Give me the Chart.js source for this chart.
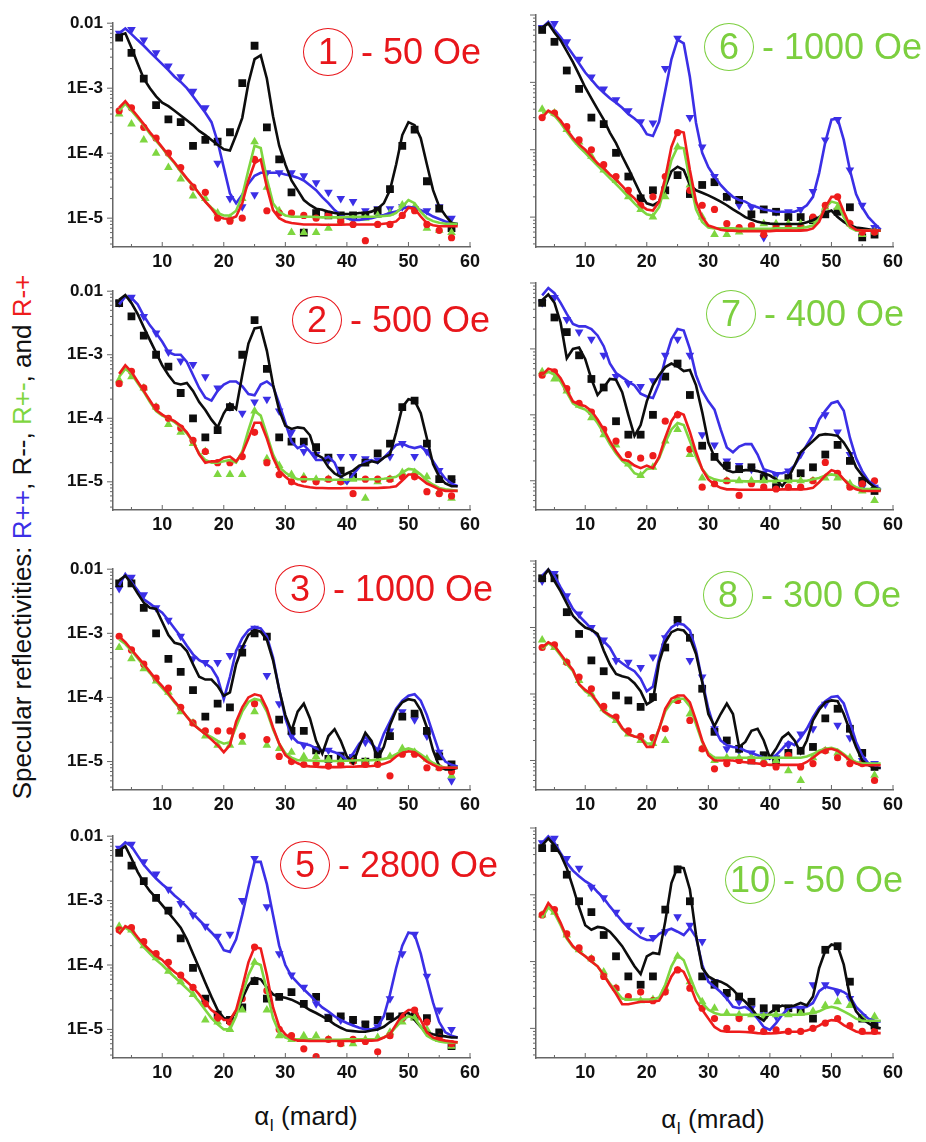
<!DOCTYPE html>
<html>
<head>
<meta charset="utf-8">
<script src="https://cdn.jsdelivr.net/npm/chart.js@4.4.1/dist/chart.umd.min.js"></script>
<style>
body { margin:0; background:#fff; width:926px; height:1142px; position:relative; overflow:hidden; font-family:"Liberation Sans", Arial, sans-serif; }
canvas { position:absolute; }
.tag { position:absolute; display:flex; align-items:center; white-space:nowrap; font-size:36px; }
.circ { display:inline-block; width:48px; height:46px; line-height:46px; border:1.3px solid currentColor; border-radius:50%; text-align:center; }
.fld { margin-left:8px; }
.ttl { position:absolute; transform:translate(-50%,-50%); white-space:nowrap; font-size:26px; color:#111; }
#ytitle { position:absolute; left:22px; top:537px; transform:translate(-50%,-50%) rotate(-90deg); white-space:nowrap; font-size:26px; color:#111; }
</style>
</head>
<body>
<div id="ytitle">Specular reflectivities: <span style="color:#3b2fe6">R++</span>, R--, <span style="color:#7ed640">R+-</span>, and <span style="color:#ee1c1c">R-+</span></div>
<div class="ttl" style="left:306px;top:1118px">&alpha;<sub style="font-size:16px">I</sub> (mard)</div>
<div class="ttl" style="left:713px;top:1121px">&alpha;<sub style="font-size:16px">I</sub> (mrad)</div>
<script>
// angle grids (mrad)
const xFit = [3,4,5,6,7,8,9,10,11,12,
  13,14,15,16,17,18,19,20,21,22,
  23,24,25,26,27,28,29,30,31,32,
  33,34,35,36,37,38,39,40,41,42,
  43,44,45,46,47,48,49,50,51,52,
  53,54,55,56,57,58];
const xPts = [3,5,7,9,11,13,15,17,19,21, 23,25,27,29,31,33,35,37,39,41, 43,45,47,49,51,53,55,57];
const xTicks = [10,20,30,40,50,60];
const yTicks = [1e-5,1e-4,1e-3,1e-2];
const yTickLabels = ['1E-5','1E-4','1E-3','0.01'];

// ---- panel 1 : 50 Oe
const p1FitPP = [7e-3,8.3e-3,6.8e-3,5.5e-3,4.5e-3,3.6e-3,2.9e-3,2.35e-3,1.9e-3,1.5e-3,
  1.25e-3,1e-3,7.5e-4,5.6e-4,4.2e-4,3e-4,1.5e-4,6e-5,2.4e-5,1.7e-5,
  2.3e-5,3.4e-5,4.5e-5,5e-5,5e-5,5e-5,5e-5,4.7e-5,4.5e-5,4.2e-5,
  3.8e-5,3.2e-5,2.7e-5,2.1e-5,1.7e-5,1.33e-5,1.12e-5,1e-5,9.4e-6,9.4e-6,
  9.7e-6,1e-5,1.06e-5,1.12e-5,1.2e-5,1.26e-5,1.4e-5,1.5e-5,1.45e-5,1.33e-5,
  1.2e-5,1.06e-5,9.7e-6,8.9e-6,8.4e-6,8.2e-6];
const p1FitMM = [6.5e-3,7e-3,4.2e-3,2.4e-3,1.4e-3,1e-3,7.5e-4,6e-4,5.3e-4,4.5e-4,
  3.8e-4,3.2e-4,2.7e-4,2.2e-4,1.9e-4,1.6e-4,1.35e-4,1.15e-4,1.1e-4,1.9e-4,
  3.5e-4,1.2e-3,2.8e-3,3.2e-3,1.4e-3,3.7e-4,1.3e-4,6.7e-5,3.8e-5,2.7e-5,
  1.9e-5,1.6e-5,1.4e-5,1.35e-5,1.26e-5,1.2e-5,1.16e-5,1.16e-5,1.16e-5,1.2e-5,
  1.2e-5,1.26e-5,1.4e-5,1.7e-5,2.7e-5,6.7e-5,1.9e-4,3e-4,2.7e-4,1.7e-4,
  6.7e-5,2.7e-5,1.5e-5,1.1e-5,8.5e-6,8e-6];
const p1FitPM = [4.5e-4,5.8e-4,4.5e-4,3.5e-4,2.7e-4,2e-4,1.55e-4,1.2e-4,9e-5,7e-5,
  5.2e-5,4e-5,3.1e-5,2.4e-5,1.8e-5,1.45e-5,1.2e-5,1.1e-5,1.1e-5,1.3e-5,
  2.2e-5,5.5e-5,1.3e-4,1.2e-4,4e-5,1.7e-5,1.25e-5,1.1e-5,1.05e-5,1.05e-5,
  1.05e-5,1.05e-5,1.04e-5,1.03e-5,1.03e-5,1.03e-5,1.03e-5,1.04e-5,1.05e-5,1.05e-5,
  1.05e-5,1.05e-5,1.06e-5,1.08e-5,1.1e-5,1.2e-5,1.5e-5,1.9e-5,1.7e-5,1.25e-5,
  1e-5,9e-6,8.5e-6,8.2e-6,8.2e-6,8.2e-6];
const p1FitMP = [5e-4,6.3e-4,4.8e-4,3.7e-4,2.8e-4,2.1e-4,1.62e-4,1.23e-4,9.3e-5,7.2e-5,
  5.4e-5,4.1e-5,3.2e-5,2.4e-5,1.8e-5,1.4e-5,1.06e-5,9.9e-6,9.7e-6,1.06e-5,
  1.7e-5,3.8e-5,7e-5,8e-5,3e-5,1.33e-5,1e-5,8.9e-6,8.4e-6,8.2e-6,
  8e-6,8e-6,8e-6,7.9e-6,7.9e-6,7.9e-6,7.9e-6,8e-6,8e-6,8e-6,
  8e-6,8e-6,8e-6,8.2e-6,8.4e-6,8.9e-6,1.1e-5,1.45e-5,1.4e-5,1.06e-5,
  8.4e-6,7.8e-6,7.5e-6,7.5e-6,7.5e-6,7.5e-6];
const p1PtsPP = [7e-3,8e-3,5.5e-3,3.5e-3,2.2e-3,1.5e-3,9e-4,5e-4,7e-5,2e-5,
  1.5e-5,2.3e-5,5e-5,5e-5,5e-5,4.5e-5,3.5e-5,2.5e-5,2e-5,1.8e-5,
  1.3e-5,1.4e-5,1.4e-5,1.5e-5,1.4e-5,1.3e-5,1.5e-5,1e-5];
const p1PtsMM = [6e-3,3.5e-3,1.4e-3,5.5e-4,3.3e-4,3e-4,1.3e-4,1.6e-4,1.5e-4,2.1e-4,
  1.2e-3,4.5e-3,2.5e-4,8e-5,2.5e-5,6e-6,1.2e-5,1.1e-5,1.1e-5,1.1e-5,
  1.1e-5,1.3e-5,2.8e-5,1.3e-4,2.3e-4,3.7e-5,1.4e-5,7e-6];
const p1PtsPM = [4e-4,2.8e-4,1.6e-4,1e-4,6e-5,4e-5,2.2e-5,2e-5,1.2e-5,1e-5,
  2e-5,1.5e-4,3e-5,1.3e-5,6e-6,6e-6,6e-6,7e-6,9e-6,1e-5,
  1e-5,1.1e-5,1.2e-5,1.6e-5,1.5e-5,7e-6,6.5e-6,6e-6];
const p1PtsMP = [4.5e-4,5e-4,2.5e-4,1.7e-4,1e-4,6e-5,3e-5,2.5e-5,1e-5,9e-6,
  1e-5,8e-5,1.3e-5,1.2e-5,1.2e-5,1.1e-5,1e-5,1.1e-5,9e-6,8e-6,
  4.5e-6,8e-6,8e-6,1.1e-5,1.3e-5,8e-6,6.5e-6,5e-6];

// ---- panel 2 : 500 Oe
const p2FitPP = [6.2e-3,8.2e-3,7.8e-3,6.2e-3,4.1e-3,2.9e-3,2.2e-3,1.6e-3,1.1e-3,1e-3,
  1e-3,7.7e-4,4.8e-4,3e-4,2.1e-4,1.9e-4,2.7e-4,3.4e-4,3.8e-4,3.8e-4,
  3.2e-4,2.4e-4,2.3e-4,3.4e-4,3.8e-4,3.2e-4,1.7e-4,8.5e-5,4.3e-5,3.4e-5,
  3.8e-5,3e-5,2.2e-5,2.2e-5,2.5e-5,2e-5,1.2e-5,9.4e-6,1.3e-5,1.7e-5,
  2.1e-5,2.2e-5,2e-5,2.4e-5,3e-5,3.8e-5,4e-5,3.6e-5,3.4e-5,3.6e-5,
  3e-5,2.1e-5,1.5e-5,1.12e-5,9.4e-6,8.5e-6];
const p2FitMM = [7.3e-3,8.7e-3,6.5e-3,4.4e-3,2.7e-3,1.7e-3,1.08e-3,6.8e-4,4.8e-4,3.6e-4,
  3.4e-4,3.6e-4,2.7e-4,1.8e-4,1.35e-4,9.5e-5,7.2e-5,1.2e-4,1.7e-4,1.4e-4,
  4.8e-4,1.5e-3,2.6e-3,2.7e-3,1.15e-3,3.4e-4,1.35e-4,7.6e-5,6.8e-5,7.2e-5,
  7e-5,5.4e-5,2.7e-5,2.4e-5,1.7e-5,1.35e-5,1.2e-5,1.35e-5,1.5e-5,1.8e-5,
  1.9e-5,2.1e-5,2e-5,2.4e-5,2.7e-5,6e-5,1.5e-4,2e-4,1.9e-4,1.2e-4,
  4.8e-5,1.9e-5,1.2e-5,9.4e-6,8.5e-6,8.5e-6];
const p2FitPM = [4.5e-4,6e-4,5e-4,3.6e-4,2.6e-4,1.8e-4,1.3e-4,1.1e-4,1e-4,8.7e-5,
  7.3e-5,5.8e-5,4.2e-5,2.8e-5,2.2e-5,2e-5,2e-5,2.1e-5,2.2e-5,2e-5,
  3e-5,6.5e-5,1.3e-4,1.1e-4,5.5e-5,2.7e-5,1.7e-5,1.4e-5,1.2e-5,1.1e-5,
  1.1e-5,1.1e-5,1.1e-5,1.1e-5,1.08e-5,1.08e-5,1.08e-5,1.08e-5,1.1e-5,1.1e-5,
  1.1e-5,1.1e-5,1.1e-5,1.12e-5,1.15e-5,1.2e-5,1.4e-5,1.6e-5,1.55e-5,1.3e-5,
  1.05e-5,9e-6,8e-6,7.6e-6,7.4e-6,7.2e-6];
const p2FitMP = [5e-4,6.8e-4,5.4e-4,3.8e-4,2.7e-4,1.9e-4,1.35e-4,1.14e-4,1e-4,9e-5,
  7.6e-5,6e-5,4.3e-5,2.7e-5,2e-5,2.1e-5,2.1e-5,2.4e-5,2.5e-5,2.1e-5,
  2.8e-5,4.8e-5,8.5e-5,8.5e-5,4.8e-5,2.4e-5,1.5e-5,1.2e-5,1e-5,9e-6,
  8.5e-6,8.2e-6,8e-6,8e-6,7.9e-6,7.9e-6,7.9e-6,8e-6,8e-6,8e-6,
  8e-6,8e-6,8e-6,8.1e-6,8.2e-6,8.5e-6,1.05e-5,1.3e-5,1.3e-5,1.12e-5,
  9.4e-6,8.5e-6,7.6e-6,7.2e-6,7.2e-6,7.2e-6];
const p2PtsPP = [6.5e-3,8e-3,4e-3,2.2e-3,1.1e-3,8e-4,7e-4,4.5e-4,3e-4,1.5e-4,
  1.2e-4,1.8e-4,2e-4,1.3e-4,6e-5,3e-5,2.7e-5,2.2e-5,2.5e-5,2.5e-5,
  2.3e-5,2.2e-5,2.5e-5,4e-5,2.5e-5,3e-5,1.5e-5,1e-5];
const p2PtsMM = [6.5e-3,4e-3,2e-3,1e-3,6.5e-4,2.5e-4,1e-4,5e-5,6.5e-5,1.5e-4,
  1e-3,3.5e-3,6e-4,5e-5,4.3e-5,4.3e-5,3.5e-5,2.4e-5,1.5e-5,1.2e-5,
  2e-5,2.8e-5,4e-5,1.5e-4,1.9e-4,4e-5,1.1e-5,1.1e-5];
const p2PtsPM = [4e-4,4.5e-4,3e-4,1.5e-4,8e-5,6e-5,4e-5,3e-5,1.3e-5,1.3e-5,
  1.3e-5,1.3e-4,2.3e-5,1.8e-5,1.3e-5,1.2e-5,1.1e-5,1.1e-5,1e-5,1.1e-5,
  5.5e-6,1e-5,1.1e-5,1.4e-5,1.4e-5,1.2e-5,7e-6,5.5e-6];
const p2PtsMP = [3.5e-4,5.5e-4,3e-4,1.5e-4,1e-4,7e-5,4.5e-5,3e-5,2e-5,2e-5,
  2.5e-5,6e-5,2e-5,1.3e-5,1e-5,1.1e-5,1e-5,1.1e-5,1e-5,6.5e-6,
  1.1e-5,1.1e-5,1.1e-5,1.2e-5,1.2e-5,7e-6,6.5e-6,6e-6];

// ---- panel 3 : 1000 Oe
const p3FitPP = [5.6e-3,8.4e-3,6.3e-3,4.7e-3,3.4e-3,2.9e-3,2.45e-3,2.1e-3,1.6e-3,1.19e-3,
  8.9e-4,6.4e-4,4.7e-4,3.8e-4,3.4e-4,2.9e-4,2e-4,9.4e-5,2.1e-4,5.3e-4,
  8.4e-4,1.12e-3,1.26e-3,1.19e-3,8.9e-4,4.2e-4,1.33e-4,4.7e-5,2.5e-5,2e-5,
  1.9e-5,1.8e-5,1.6e-5,1.5e-5,1.5e-5,1.4e-5,1.26e-5,1.06e-5,1.33e-5,1.9e-5,
  2.4e-5,1.9e-5,1.5e-5,2.7e-5,4.2e-5,6.7e-5,8.9e-5,1.06e-4,1.12e-4,8.9e-5,
  5.3e-5,2.7e-5,1.4e-5,1e-5,8.9e-6,8.4e-6];
const p3FitMM = [6.7e-3,7.9e-3,6e-3,4.2e-3,3e-3,2.5e-3,2.4e-3,1.5e-3,9.4e-4,7.1e-4,
  6.7e-4,5.3e-4,3.3e-4,2.1e-4,1.9e-4,1.9e-4,1.5e-4,1.06e-4,1.2e-4,3.3e-4,
  6e-4,9.4e-4,1.12e-3,1.06e-3,7.9e-4,3.8e-4,1.33e-4,5.3e-5,3e-5,6e-5,
  8e-5,4.7e-5,2.1e-5,1.33e-5,2.5e-5,3.2e-5,2.1e-5,1.2e-5,9.4e-6,1.7e-5,
  2.8e-5,2.1e-5,1.1e-5,1.7e-5,3.7e-5,6.3e-5,8.4e-5,9.4e-5,9e-5,6.3e-5,
  3.4e-5,1.5e-5,8.4e-6,7.5e-6,7.5e-6,8e-6];
const p3FitPM = [8e-4,6.8e-4,5.3e-4,4.1e-4,3.1e-4,2.4e-4,1.8e-4,1.4e-4,1.1e-4,8.4e-5,
  6.5e-5,5e-5,3.9e-5,3.2e-5,2.7e-5,2.4e-5,2.1e-5,1.9e-5,2e-5,3.5e-5,
  6e-5,8.5e-5,9.5e-5,9e-5,6e-5,3.2e-5,1.9e-5,1.35e-5,1.15e-5,1.05e-5,
  1.05e-5,1.04e-5,1.03e-5,1.02e-5,1.02e-5,1.02e-5,1.02e-5,1.03e-5,1.04e-5,1.05e-5,
  1.05e-5,1.05e-5,1.07e-5,1.1e-5,1.15e-5,1.3e-5,1.5e-5,1.6e-5,1.5e-5,1.3e-5,
  1.1e-5,9.5e-6,8.5e-6,8e-6,8e-6,8e-6];
const p3FitMP = [8.9e-4,7.3e-4,5.6e-4,4.3e-4,3.3e-4,2.5e-4,1.9e-4,1.5e-4,1.15e-4,8.7e-5,
  6.7e-5,5e-5,3.8e-5,3.2e-5,2.7e-5,2.2e-5,1.8e-5,1.4e-5,1.8e-5,4.2e-5,
  7e-5,1e-4,1.12e-4,1.06e-4,6.7e-5,3.4e-5,1.9e-5,1.26e-5,1.06e-5,9.4e-6,
  8.6e-6,8.4e-6,8.3e-6,8.2e-6,8.2e-6,8.2e-6,8.2e-6,8.3e-6,8.3e-6,8.4e-6,
  8.4e-6,8.5e-6,8.7e-6,9.2e-6,1e-5,1.2e-5,1.36e-5,1.45e-5,1.4e-5,1.2e-5,
  1e-5,8.9e-6,8e-6,8e-6,8e-6,8e-6];
const p3PtsPP = [5e-3,7.5e-3,4e-3,2.5e-3,1.6e-3,9e-4,4e-4,3.5e-4,3.5e-4,4.5e-4,
  6e-4,1.2e-3,2.2e-4,8e-5,2.5e-5,1.8e-5,1.5e-5,1.5e-5,1.3e-5,1.2e-5,
  2e-5,1.5e-5,3e-5,6e-5,4.5e-5,2.5e-5,1.4e-5,5e-6];
const p3PtsMM = [6e-3,6e-3,2.5e-3,1e-3,4e-4,2.5e-4,1.3e-4,5e-5,8e-5,7e-5,
  5e-4,1e-3,8.9e-4,4.5e-5,3e-5,3e-5,1.5e-5,1.1e-5,1.2e-5,1.1e-5,
  1e-5,1.3e-5,2.5e-5,5e-5,5.6e-5,3e-5,1.2e-5,9e-6];
const p3PtsPM = [6e-4,4e-4,2.8e-4,1.8e-4,1.2e-4,6e-5,4e-5,2.5e-5,1.8e-5,1.8e-5,
  2e-5,6e-5,1.8e-5,1.6e-5,1.4e-5,1.2e-5,1.2e-5,1.1e-5,1e-5,1e-5,
  1e-5,1e-5,1.2e-5,1.6e-5,1.4e-5,1.1e-5,8e-6,6e-6];
const p3PtsMP = [9e-4,5.5e-4,3.3e-4,2e-4,1.4e-4,7e-5,4e-5,3e-5,3e-5,3e-5,
  2.5e-5,8e-5,2.2e-5,1.2e-5,1e-5,9e-6,9.5e-6,8.5e-6,9e-6,1e-5,
  9e-6,9e-6,6e-6,1.3e-5,1.3e-5,8e-6,8e-6,7e-6];

// ---- panel 5 : 2800 Oe
const p5FitPP = [6.5e-3,8e-3,7e-3,5e-3,3.6e-3,2.8e-3,2.2e-3,1.8e-3,1.5e-3,1.2e-3,
  1e-3,8e-4,6.3e-4,5e-4,4e-4,3.2e-4,2.5e-4,1.7e-4,1.6e-4,2.5e-4,
  6e-4,1.6e-3,4e-3,4e-3,1.8e-3,6e-4,2e-4,1e-4,6.7e-5,5.3e-5,
  4.2e-5,3.4e-5,2.7e-5,2.2e-5,1.9e-5,1.6e-5,1.4e-5,1.26e-5,1.15e-5,1.06e-5,
  1e-5,1e-5,1.1e-5,1.6e-5,3.5e-5,9e-5,2e-4,3.2e-4,3e-4,1.5e-4,
  6e-5,2.6e-5,1.3e-5,9e-6,8e-6,7.5e-6];
const p5FitMM = [6e-3,7e-3,4.5e-3,2.8e-3,1.9e-3,1.4e-3,1.1e-3,8.5e-4,6.5e-4,5e-4,
  3.8e-4,2.5e-4,1.5e-4,9e-5,5.3e-5,3.2e-5,2e-5,1.5e-5,1.4e-5,1.9e-5,
  3e-5,4.8e-5,6.3e-5,6e-5,4.5e-5,3.5e-5,3.2e-5,3.1e-5,2.9e-5,2.6e-5,
  2.3e-5,2e-5,1.8e-5,1.6e-5,1.4e-5,1.2e-5,1.06e-5,9.6e-6,9.4e-6,9.2e-6,
  9.2e-6,9.6e-6,1e-5,1.1e-5,1.3e-5,1.5e-5,1.75e-5,1.8e-5,1.4e-5,1.1e-5,
  9e-6,8.4e-6,8e-6,7.8e-6,7.5e-6,7.5e-6];
const p5FitPM = [3.3e-4,3.8e-4,3.3e-4,2.5e-4,1.9e-4,1.5e-4,1.2e-4,1e-4,8e-5,6.5e-5,
  5.3e-5,4.3e-5,3.5e-5,2.7e-5,2e-5,1.5e-5,1.2e-5,1e-5,1e-5,1.6e-5,
  3.5e-5,7e-5,1.1e-4,1e-4,4e-5,1.5e-5,9e-6,7.5e-6,7e-6,7e-6,
  7e-6,7e-6,6.9e-6,6.9e-6,6.9e-6,6.9e-6,6.9e-6,7e-6,7e-6,7e-6,
  7e-6,7e-6,7.1e-6,7.5e-6,8.5e-6,1.1e-5,1.4e-5,1.6e-5,1.5e-5,1.1e-5,
  8e-6,7e-6,6.5e-6,6.3e-6,6.3e-6,6.3e-6];
const p5FitMP = [3e-4,4e-4,3.6e-4,2.7e-4,2.1e-4,1.7e-4,1.4e-4,1.2e-4,9.5e-5,7.8e-5,
  6.7e-5,5.5e-5,4.5e-5,3.5e-5,2.6e-5,2e-5,1.7e-5,1.4e-5,1.4e-5,2e-5,
  4.5e-5,1.1e-4,1.9e-4,1.8e-4,7e-5,2.2e-5,1.1e-5,8.4e-6,7.2e-6,6.7e-6,
  6.7e-6,6.6e-6,6.6e-6,6.6e-6,6.6e-6,6.6e-6,6.6e-6,6.6e-6,6.6e-6,6.7e-6,
  6.7e-6,6.7e-6,6.8e-6,7.5e-6,8.4e-6,1.2e-5,1.7e-5,2e-5,2e-5,1.4e-5,
  9e-6,7.5e-6,7e-6,6.7e-6,6.5e-6,6.3e-6];
const p5PtsPP = [6.5e-3,7.5e-3,4e-3,2.6e-3,1.5e-3,9e-4,6e-4,4e-4,2.8e-4,3e-4,
  1e-3,4.5e-3,8e-4,1.5e-4,7e-5,4.5e-5,2.5e-5,1.6e-5,1.4e-5,1.3e-5,
  1.2e-5,1.1e-5,3e-5,1.5e-4,3e-4,6.7e-5,2e-5,1e-5];
const p5PtsMM = [5.5e-3,3.5e-3,2e-3,1.1e-3,7e-4,2.6e-4,9e-5,3e-5,1.7e-5,1.4e-5,
  2.2e-5,5.6e-5,3e-5,3.2e-5,3.8e-5,2.5e-5,3.2e-5,1.5e-5,1.6e-5,1.4e-5,
  1.2e-5,1.4e-5,1.6e-5,1.6e-5,1.6e-5,1.5e-5,9e-6,5.5e-6];
const p5PtsPM = [4e-4,3.5e-4,2e-4,1.3e-4,8e-5,5.5e-5,3.5e-5,1.4e-5,1.3e-5,1e-5,
  2e-5,1.1e-4,2e-5,8e-6,7e-6,8e-6,8e-6,7e-6,6e-6,6e-6,
  7e-6,7.5e-6,9e-6,1.3e-5,1.5e-5,1e-5,7e-6,5.5e-6];
const p5PtsMP = [3.5e-4,3.8e-4,2.3e-4,1.5e-4,1.1e-4,7e-5,4.5e-5,2.5e-5,1.5e-5,1.3e-5,
  3e-5,1.9e-4,4e-5,1e-5,8e-6,5e-6,3.8e-6,7e-6,6e-6,7e-6,
  6.5e-6,4.5e-6,8e-6,1.5e-5,2e-5,1.3e-5,7.5e-6,6e-6];

// ---- panel 6 : 1000 Oe
const p6FitPP = [6.5e-3,7.9e-3,6e-3,4.7e-3,3.5e-3,2.6e-3,1.9e-3,1.4e-3,1.1e-3,8.6e-4,
  7e-4,5.8e-4,5e-4,4.2e-4,3.4e-4,2.9e-4,2.4e-4,1.7e-4,1.6e-4,2.6e-4,
  7.5e-4,2.2e-3,4.3e-3,3.8e-3,1.2e-3,2.5e-4,9e-5,5.5e-5,4e-5,3e-5,
  2.4e-5,2e-5,1.8e-5,1.7e-5,1.5e-5,1.4e-5,1.3e-5,1.25e-5,1.2e-5,1.2e-5,
  1.2e-5,1.2e-5,1.3e-5,1.5e-5,2e-5,4.5e-5,1.3e-4,2.8e-4,2.9e-4,1.4e-4,
  5e-5,2.2e-5,1.4e-5,1e-5,8e-6,6.5e-6];
const p6FitMM = [6.5e-3,7.5e-3,5.5e-3,4.2e-3,2.9e-3,2e-3,1.3e-3,8.4e-4,5.8e-4,4e-4,
  2.8e-4,1.8e-4,1.25e-4,8e-5,5.3e-5,3.4e-5,2.2e-5,1.6e-5,1.5e-5,1.7e-5,
  2.8e-5,4.8e-5,5.6e-5,5e-5,3e-5,2.5e-5,2.3e-5,2.1e-5,1.9e-5,1.7e-5,
  1.5e-5,1.3e-5,1.15e-5,1e-5,9.2e-6,8.5e-6,8.2e-6,8e-6,7.9e-6,7.9e-6,
  7.9e-6,7.9e-6,7.9e-6,8.4e-6,9e-6,1e-5,1.15e-5,1.25e-5,1e-5,8.5e-6,
  7.5e-6,7e-6,6.8e-6,6.6e-6,6.4e-6,6.3e-6];
const p6FitPM = [3.5e-4,3.7e-4,3.2e-4,2.5e-4,1.85e-4,1.4e-4,1.1e-4,9e-5,7.2e-5,5.8e-5,
  4.7e-5,3.8e-5,3.1e-5,2.5e-5,2e-5,1.6e-5,1.3e-5,1.1e-5,1.05e-5,1.4e-5,
  3e-5,7e-5,1.1e-4,1.05e-4,3.5e-5,1.3e-5,8.5e-6,7e-6,6.8e-6,6.8e-6,
  6.8e-6,6.8e-6,6.7e-6,6.7e-6,6.7e-6,6.7e-6,6.7e-6,6.7e-6,6.8e-6,6.8e-6,
  6.8e-6,6.8e-6,6.9e-6,7.1e-6,7.5e-6,9.5e-6,1.4e-5,1.7e-5,1.6e-5,1e-5,
  7e-6,6.3e-6,6.3e-6,6.3e-6,6.3e-6,6.3e-6];
const p6FitMP = [3e-4,3.8e-4,3.4e-4,2.7e-4,2e-4,1.5e-4,1.2e-4,1e-4,8e-5,6.3e-5,
  5.3e-5,4.3e-5,3.6e-5,2.9e-5,2.3e-5,1.9e-5,1.5e-5,1.3e-5,1.25e-5,1.7e-5,
  3.8e-5,1.1e-4,1.9e-4,1.8e-4,5e-5,1.7e-5,1e-5,7.5e-6,7e-6,6.5e-6,
  6.3e-6,6.3e-6,6.2e-6,6.2e-6,6.2e-6,6.2e-6,6.2e-6,6.2e-6,6.3e-6,6.3e-6,
  6.3e-6,6.3e-6,6.3e-6,6.4e-6,6.8e-6,8.5e-6,1.4e-5,2e-5,2e-5,1.2e-5,
  7.5e-6,6.5e-6,6.3e-6,6.3e-6,6.3e-6,6.3e-6];
const p6PtsPP = [6.5e-3,7.5e-3,4e-3,2.2e-3,1.2e-3,8e-4,5.5e-4,3.8e-4,2.6e-4,2.5e-4,
  1.6e-3,4.5e-3,3e-4,1.1e-4,4e-5,2e-5,1.5e-5,1.4e-5,5e-6,1.2e-5,
  1.2e-5,1.3e-5,2.4e-5,1.4e-4,2.8e-4,5e-5,1.5e-5,7e-6];
const p6PtsMM = [6e-3,4e-3,1.5e-3,8e-4,3e-4,2.4e-4,9e-5,4e-5,1.9e-5,2.5e-5,
  2.5e-5,4.2e-5,2.2e-5,3e-5,3.3e-5,2e-5,1.8e-5,1.1e-5,1.3e-5,1.2e-5,
  1e-5,1e-5,9e-6,1.1e-5,1.2e-5,1.4e-5,5e-6,5.5e-6];
const p6PtsPM = [4e-4,3.5e-4,2e-4,1.3e-4,8e-5,5e-5,3.5e-5,2e-5,1.3e-5,1e-5,
  2e-5,1.1e-4,3e-5,1e-5,5.5e-6,5.5e-6,6e-6,7e-6,8e-6,8e-6,
  8e-6,8e-6,9e-6,1.4e-5,1.4e-5,8e-6,5.5e-6,6e-6];
const p6PtsMP = [3e-4,3.5e-4,2.2e-4,1.4e-4,1e-4,6e-5,4e-5,2.5e-5,1.5e-5,2e-5,
  4e-5,1.8e-4,2.5e-5,1.5e-5,1.3e-5,8e-6,7e-6,7.5e-6,5.5e-6,7e-6,
  7e-6,7e-6,1e-5,1.5e-5,2e-5,8e-6,6e-6,6e-6];

// ---- panel 7 : 400 Oe
const p7FitPP = [6.5e-3,8.4e-3,7e-3,5e-3,3.4e-3,2.4e-3,2.2e-3,2.2e-3,2e-3,1.6e-3,
  1.1e-3,6e-4,4.3e-4,3.7e-4,3.2e-4,2.8e-4,2.1e-4,1.9e-4,1.8e-4,3e-4,
  7e-4,1.4e-3,2e-3,1.9e-3,1e-3,4e-4,2.3e-4,1.6e-4,1.2e-4,6e-5,
  3.2e-5,2.7e-5,3.3e-5,3.6e-5,3.6e-5,2.5e-5,1.5e-5,1.4e-5,1.3e-5,1.3e-5,
  1.4e-5,1.7e-5,2.4e-5,3.5e-5,5e-5,8.5e-5,1.15e-4,1.5e-4,1.6e-4,1.15e-4,
  4.5e-5,2.2e-5,1.4e-5,1e-5,8.5e-6,7.4e-6];
const p7FitMM = [5.5e-3,6.7e-3,5e-3,2.5e-3,7.2e-4,1e-3,1.05e-3,7e-4,3.5e-4,2e-4,
  2.6e-4,3.5e-4,3.4e-4,2.2e-4,1e-4,4.8e-5,7e-5,1.6e-4,2.8e-4,4e-4,
  5.3e-4,6e-4,5.4e-4,4.6e-4,4.8e-4,2.8e-4,1.1e-4,3.8e-5,2.3e-5,1.8e-5,
  1.45e-5,1.35e-5,1.4e-5,1.45e-5,1.45e-5,1.4e-5,1.3e-5,1.2e-5,1.05e-5,8.3e-6,
  1.1e-5,1.7e-5,2.7e-5,3.3e-5,4e-5,4.9e-5,5.1e-5,5e-5,4.8e-5,3.8e-5,
  2.7e-5,1.6e-5,1.2e-5,9.5e-6,8e-6,7.1e-6];
const p7FitPM = [4e-4,4.5e-4,4.1e-4,3.2e-4,2.2e-4,1.5e-4,1.3e-4,1.2e-4,1e-4,7.5e-5,
  5.3e-5,3.6e-5,2.6e-5,2e-5,1.7e-5,1.3e-5,1.2e-5,1.5e-5,1.6e-5,2.2e-5,
  3.8e-5,6e-5,7.5e-5,7e-5,4e-5,2.3e-5,1.5e-5,1.15e-5,1.05e-5,1e-5,
  1e-5,1e-5,9.9e-6,9.8e-6,9.8e-6,9.8e-6,9.8e-6,9.9e-6,1e-5,1e-5,
  1e-5,1e-5,1e-5,1e-5,1.05e-5,1.1e-5,1.2e-5,1.25e-5,1.2e-5,1.05e-5,
  9e-6,8e-6,7.5e-6,7.5e-6,7.5e-6,7.5e-6];
const p7FitMP = [4e-4,5e-4,4.7e-4,3.6e-4,2.4e-4,1.6e-4,1.45e-4,1.35e-4,1.15e-4,8.5e-5,
  6e-5,4e-5,2.8e-5,2.1e-5,2e-5,1.7e-5,1.55e-5,1.7e-5,1.55e-5,2.3e-5,
  4.5e-5,8e-5,1.1e-4,1e-4,5.5e-5,2.7e-5,1.5e-5,1.05e-5,8.7e-6,7.8e-6,
  7.4e-6,7.4e-6,7.3e-6,7.3e-6,7.3e-6,7.3e-6,7.3e-6,7.3e-6,7.3e-6,7.4e-6,
  7.4e-6,7.4e-6,7.4e-6,7.5e-6,7.8e-6,9.5e-6,1.2e-5,1.45e-5,1.35e-5,1.05e-5,
  8.3e-6,7.4e-6,7e-6,7e-6,7e-6,7e-6];
const p7PtsPP = [5e-3,6e-3,2.8e-3,1.8e-3,1.4e-3,8e-4,3.8e-4,3e-4,2.7e-4,3.3e-4,
  8e-4,1.4e-3,8e-4,5e-5,3.5e-5,2e-5,1.7e-5,1.5e-5,1.3e-5,1.2e-5,
  1.4e-5,2.5e-5,6e-5,1e-4,5.5e-5,2.5e-5,8e-6,8e-6];
const p7PtsMM = [5e-3,3e-3,1.8e-3,8e-4,3.5e-4,2.6e-4,8e-5,5e-5,5e-5,1e-4,
  3.8e-4,6e-4,2e-4,3.4e-5,2.3e-5,1.7e-5,1.5e-5,1.6e-5,1.1e-5,8e-6,
  1.1e-5,1.3e-5,1.6e-5,2.5e-5,3.5e-5,2e-5,1e-5,7e-6];
const p7PtsPM = [4.5e-4,3.5e-4,2.3e-4,1.4e-4,9e-5,5e-5,3.5e-5,1.8e-5,1.2e-5,1.6e-5,
  4e-5,6e-5,2.5e-5,1.1e-5,9e-6,1e-5,1e-5,1e-5,1e-5,1e-5,
  1e-5,1e-5,1e-5,1.1e-5,1.1e-5,9e-6,7e-6,5e-6];
const p7PtsMP = [4e-4,4.5e-4,2.5e-4,1.5e-4,1.1e-4,6e-5,4e-5,2.5e-5,2.2e-5,2.4e-5,
  8e-5,1e-4,3e-5,8e-6,9e-6,1e-5,6e-6,9e-6,8e-6,7.5e-6,
  8e-6,8e-6,1e-5,1.9e-5,1.3e-5,8e-6,9e-6,1e-5];

// ---- panel 8 : 300 Oe
const p8FitPP = [6e-3,7.4e-3,6e-3,4e-3,2.8e-3,1.9e-3,1.5e-3,1.2e-3,9.5e-4,7.5e-4,
  6.2e-4,5e-4,3.4e-4,2.9e-4,2.5e-4,2.2e-4,1.7e-4,1.1e-4,1.3e-4,3.5e-4,
  7.5e-4,1e-3,1.15e-3,1.1e-3,9e-4,4.5e-4,1.6e-4,6e-5,3e-5,2e-5,
  1.7e-5,1.6e-5,1.55e-5,1.4e-5,1.3e-5,1.2e-5,1.1e-5,1.07e-5,1.2e-5,1.5e-5,
  1.9e-5,1.7e-5,2.2e-5,3e-5,4.5e-5,6.3e-5,7.8e-5,9e-5,9.3e-5,7.2e-5,
  3.8e-5,1.9e-5,1.2e-5,9.1e-6,8e-6,7.7e-6];
const p8FitMM = [5.5e-3,7.4e-3,5e-3,3.5e-3,2.3e-3,1.5e-3,1.2e-3,1e-3,9.2e-4,8e-4,
  4.5e-4,2.8e-4,2e-4,1.85e-4,1.75e-4,1.45e-4,1.1e-4,7e-5,8e-5,3e-4,
  6e-4,8.5e-4,9.4e-4,9e-4,7e-4,4e-4,1.5e-4,5e-5,3.3e-5,5e-5,
  7.2e-5,5e-5,1.6e-5,1.9e-5,2.8e-5,3e-5,2e-5,1.1e-5,1.5e-5,2.2e-5,
  2.6e-5,2e-5,1.3e-5,2e-5,4e-5,5.8e-5,7.5e-5,8e-5,7.8e-5,5e-5,
  2.8e-5,1.6e-5,1e-5,8.5e-6,7.7e-6,7.7e-6];
const p8FitPM = [4.8e-4,5.8e-4,5e-4,3.8e-4,2.8e-4,2.2e-4,1.4e-4,1.1e-4,9.5e-5,7.2e-5,
  5.4e-5,4.6e-5,4.1e-5,3e-5,2.5e-5,2.3e-5,2.2e-5,1.8e-5,1.8e-5,3e-5,
  5.5e-5,7.5e-5,8.5e-5,8.5e-5,6.5e-5,3.5e-5,1.9e-5,1.3e-5,1.1e-5,1.1e-5,
  1.1e-5,1.1e-5,1.1e-5,1.1e-5,1.1e-5,1.1e-5,1.1e-5,1.1e-5,1.1e-5,1.1e-5,
  1.1e-5,1.1e-5,1.1e-5,1.15e-5,1.25e-5,1.4e-5,1.5e-5,1.55e-5,1.45e-5,1.25e-5,
  1.05e-5,9.5e-6,9e-6,9e-6,9e-6,9e-6];
const p8FitMP = [5e-4,6e-4,5.3e-4,4e-4,3e-4,2.3e-4,1.4e-4,1.15e-4,1e-4,7.5e-5,
  5.5e-5,4.8e-5,4.3e-5,3.1e-5,2.5e-5,2.3e-5,2.2e-5,1.6e-5,1.6e-5,3e-5,
  6e-5,8.5e-5,9.5e-5,9.5e-5,7.5e-5,4e-5,2e-5,1.2e-5,1e-5,1e-5,
  1e-5,1e-5,9.6e-6,9.4e-6,9.2e-6,9e-6,8.8e-6,8.6e-6,8.6e-6,8.6e-6,
  8.6e-6,8.6e-6,8.6e-6,9.5e-6,1.1e-5,1.3e-5,1.45e-5,1.5e-5,1.4e-5,1.2e-5,
  1e-5,9e-6,8.5e-6,8.5e-6,8.5e-6,8.5e-6];
const p8PtsPP = [5e-3,6.5e-3,3e-3,1.6e-3,1e-3,6.5e-4,3.2e-4,3e-4,2.5e-4,3.6e-4,
  7e-4,1.2e-3,3.2e-4,1.8e-4,3e-5,1.5e-5,1.4e-5,1.3e-5,1.2e-5,1.1e-5,
  1.7e-5,2.5e-5,3e-5,7e-5,3.4e-5,2.2e-5,1e-5,9e-6];
const p8PtsMM = [5.5e-3,5.5e-3,1.7e-3,8e-4,3.2e-4,2.2e-4,9.5e-5,8e-5,6.4e-5,9e-5,
  5e-4,1.3e-3,7e-4,1.2e-4,2.7e-5,2e-5,1.5e-5,1e-5,1.2e-5,1e-5,
  1.3e-5,1.4e-5,1.6e-5,4.3e-5,6e-5,3e-5,1.3e-5,8e-6];
const p8PtsPM = [6.5e-4,5e-4,3e-4,1.6e-4,1e-4,6e-5,4e-5,2.5e-5,2e-5,1.8e-5,
  2e-5,8e-5,5e-5,1.5e-5,1e-5,1.1e-5,1.1e-5,1.1e-5,1e-5,1e-5,
  7e-6,5e-6,1.1e-5,1.4e-5,1.3e-5,1.1e-5,9e-6,6e-6];
const p8PtsMP = [5e-4,5.5e-4,3e-4,1.8e-4,1.2e-4,6.5e-5,4.5e-5,2.8e-5,2.3e-5,2.2e-5,
  3e-5,8e-5,4e-5,1.5e-5,7.5e-6,9e-6,1e-5,1e-5,9e-6,8e-6,
  1.2e-5,8e-6,9e-6,1.4e-5,1.1e-5,9e-6,9e-6,5e-6];

// ---- panel 10 : 50 Oe
const p10FitPP = [6e-3,7.5e-3,6e-3,4.2e-3,3e-3,2.3e-3,1.9e-3,1.6e-3,1.4e-3,1.1e-3,
  8.9e-4,6.7e-4,5.2e-4,4e-4,3.2e-4,2.7e-4,2.3e-4,2.1e-4,2.1e-4,2.6e-4,
  2.9e-4,3.1e-4,2.8e-4,2.5e-4,3.2e-4,2.3e-4,9e-5,5e-5,4.2e-5,3.5e-5,
  2.8e-5,2.1e-5,2e-5,2.1e-5,1.8e-5,1.4e-5,1.05e-5,9.5e-6,1.2e-5,1.6e-5,
  2e-5,2.1e-5,2e-5,2.1e-5,2.4e-5,3.6e-5,4.2e-5,4e-5,3.8e-5,3.5e-5,
  3e-5,2.1e-5,1.7e-5,1.4e-5,1.3e-5,1.26e-5];
const p10FitMM = [5.5e-3,7e-3,5.5e-3,4e-3,2.5e-3,1.3e-3,6.5e-4,3.5e-4,3e-4,3.3e-4,
  3.2e-4,2.8e-4,2.2e-4,1.7e-4,1.2e-4,8.5e-5,6.5e-5,1.2e-4,1.35e-4,1.3e-4,
  4e-4,1.5e-3,2.6e-3,2.5e-3,1.2e-3,2.5e-4,8e-5,6e-5,5.3e-5,5e-5,
  4.5e-5,3.8e-5,3e-5,2.5e-5,2e-5,1.5e-5,1.3e-5,1.7e-5,2e-5,2.2e-5,
  2.1e-5,2.2e-5,2.4e-5,2.2e-5,3e-5,8e-5,1.45e-4,1.8e-4,1.7e-4,9e-5,
  3e-5,1.8e-5,1.4e-5,1.2e-5,1.05e-5,1e-5];
const p10FitPM = [4.5e-4,6.5e-4,5.3e-4,3.5e-4,2.2e-4,1.65e-4,1.4e-4,1.2e-4,1e-4,8.5e-5,
  6.3e-5,4.7e-5,3.6e-5,2.8e-5,2.7e-5,2.7e-5,2.7e-5,2.7e-5,2.7e-5,2.9e-5,
  4.5e-5,8.5e-5,1.25e-4,1.05e-4,6e-5,3.5e-5,2.4e-5,1.9e-5,1.7e-5,1.6e-5,
  1.6e-5,1.6e-5,1.6e-5,1.6e-5,1.6e-5,1.6e-5,1.6e-5,1.6e-5,1.6e-5,1.6e-5,
  1.6e-5,1.6e-5,1.6e-5,1.65e-5,1.7e-5,1.8e-5,2e-5,2.1e-5,2e-5,1.8e-5,
  1.6e-5,1.4e-5,1.3e-5,1.3e-5,1.3e-5,1.3e-5];
const p10FitMP = [5e-4,7.5e-4,5.8e-4,3.8e-4,2.3e-4,1.7e-4,1.4e-4,1.2e-4,1e-4,8.5e-5,
  6.3e-5,4.5e-5,3.3e-5,2.3e-5,2.3e-5,2.4e-5,2.5e-5,2.5e-5,2.5e-5,2.6e-5,
  3.7e-5,6e-5,8e-5,7e-5,4.5e-5,2.6e-5,1.9e-5,1.4e-5,1.05e-5,9.2e-6,
  8.9e-6,8.9e-6,8.9e-6,8.8e-6,8.7e-6,8.5e-6,8.4e-6,8.4e-6,8.5e-6,8.7e-6,
  8.9e-6,8.9e-6,8.9e-6,9.3e-6,1e-5,1.1e-5,1.25e-5,1.33e-5,1.3e-5,1.12e-5,
  1e-5,9e-6,8.5e-6,8.5e-6,8.5e-6,8.5e-6];
const p10PtsPP = [6e-3,7e-3,3.5e-3,2.5e-3,1.3e-3,9e-4,5.5e-4,3.5e-4,3e-4,2.3e-4,
  2.8e-4,4.7e-4,3.5e-4,2e-4,5e-5,3e-5,2.5e-5,2e-5,1.6e-5,1.5e-5,
  2e-5,2e-5,4.5e-5,4.5e-5,3.5e-5,2.8e-5,1.5e-5,1.2e-5];
const p10PtsMM = [5e-3,5e-3,2e-3,8e-4,5.5e-4,2.5e-4,1.2e-4,6e-5,4.5e-5,6e-5,
  6e-4,2.4e-3,8e-4,6e-5,4.5e-5,3.4e-5,3e-5,2.5e-5,2e-5,2e-5,
  2e-5,1.8e-5,1.4e-5,1.5e-4,1.7e-4,5e-5,1.4e-5,1.1e-5];
const p10PtsPM = [5e-4,5.5e-4,2.5e-4,1.5e-4,1.1e-4,7e-5,4e-5,2.8e-5,2.6e-5,2.7e-5,
  4e-5,1.2e-4,5e-5,2.5e-5,2e-5,1.7e-5,1.6e-5,1.6e-5,1.5e-5,1.6e-5,
  1.6e-5,1.7e-5,1.8e-5,2.2e-5,2.5e-5,2.2e-5,1.5e-5,1.5e-5];
const p10PtsMP = [5e-4,6e-4,2.6e-4,1.6e-4,1.1e-4,6e-5,4e-5,3e-5,3.5e-5,2.6e-5,
  3.5e-5,7.5e-5,4e-5,2e-5,1.4e-5,1e-5,1.4e-5,1e-5,9e-6,9.5e-6,
  9e-6,9e-6,1e-5,1.2e-5,1.4e-5,1.1e-5,9e-6,9e-6];

// series look: R++, R--, R+-, R-+
const series = [
  {name:'R++', color:'#3b2fe6', marker:'triangle', rot:180, r:5},
  {name:'R--', color:'#0d0d0d', marker:'rect', rot:0, r:5.5},
  {name:'R+-', color:'#7ed640', marker:'triangle', rot:0, r:5},
  {name:'R-+', color:'#ee1c1c', marker:'circle', rot:0, r:3.6}
];

const RED = '#e8161b', GREEN = '#7ccf3f';
const panels = [
  {num:'1',  field:'- 50 Oe',   col:0, row:0, color:RED,   tag:[328,52],  fit:[p1FitPP,p1FitMM,p1FitPM,p1FitMP], pts:[p1PtsPP,p1PtsMM,p1PtsPM,p1PtsMP]},
  {num:'2',  field:'- 500 Oe',  col:0, row:1, color:RED,   tag:[317,320], fit:[p2FitPP,p2FitMM,p2FitPM,p2FitMP], pts:[p2PtsPP,p2PtsMM,p2PtsPM,p2PtsMP]},
  {num:'3',  field:'- 1000 Oe', col:0, row:2, color:RED,   tag:[300,589], fit:[p3FitPP,p3FitMM,p3FitPM,p3FitMP], pts:[p3PtsPP,p3PtsMM,p3PtsPM,p3PtsMP]},
  {num:'5',  field:'- 2800 Oe', col:0, row:3, color:RED,   tag:[305,865], fit:[p5FitPP,p5FitMM,p5FitPM,p5FitMP], pts:[p5PtsPP,p5PtsMM,p5PtsPM,p5PtsMP]},
  {num:'6',  field:'- 1000 Oe', col:1, row:0, color:GREEN, tag:[729,47],  fit:[p6FitPP,p6FitMM,p6FitPM,p6FitMP], pts:[p6PtsPP,p6PtsMM,p6PtsPM,p6PtsMP]},
  {num:'7',  field:'- 400 Oe',  col:1, row:1, color:GREEN, tag:[731,314], fit:[p7FitPP,p7FitMM,p7FitPM,p7FitMP], pts:[p7PtsPP,p7PtsMM,p7PtsPM,p7PtsMP]},
  {num:'8',  field:'- 300 Oe',  col:1, row:2, color:GREEN, tag:[728,595], fit:[p8FitPP,p8FitMM,p8FitPM,p8FitMP], pts:[p8PtsPP,p8PtsMM,p8PtsPM,p8PtsMP]},
  {num:'10', field:'- 50 Oe',   col:1, row:3, color:GREEN, tag:[750,880], fit:[p10FitPP,p10FitMM,p10FitPM,p10FitMP], pts:[p10PtsPP,p10PtsMM,p10PtsPM,p10PtsMP]}
];

// plot-area edges in page pixels
const COL_L = [113, 536], COL_R = [470, 893];
const ROW_T = [15, 283, 561, 828], ROW_B = [247, 510, 790, 1058];
const PAD_T = 12, PAD_R = 16, X_H = 32;

// small tick marks: x inward, y outward, log minors
const tickMarks = {
  id: 'tickMarks',
  afterDraw(chart) {
    const {ctx, chartArea: a, scales: {x, y}} = chart;
    ctx.save();
    ctx.strokeStyle = '#666';
    ctx.lineWidth = 1;
    ctx.beginPath();
    for (let v = 5; v <= 60; v += 5) {
      const px = x.getPixelForValue(v);
      const len = v % 10 === 0 ? 5 : 3;
      ctx.moveTo(px, a.bottom); ctx.lineTo(px, a.bottom - len);
    }
    for (let d = -6; d <= -2; d++) {
      for (let m = 1; m <= 9; m++) {
        const v = m * Math.pow(10, d);
        if (v < y.min || v > y.max * 1.0001) continue;
        const py = y.getPixelForValue(v);
        const len = m === 1 ? 6 : 3;
        ctx.moveTo(a.left, py); ctx.lineTo(a.left - len, py);
      }
    }
    ctx.stroke();
    ctx.restore();
  }
};

const fontTick = {family: '"Liberation Sans", Arial, sans-serif', size: 18, weight: 'bold'};

panels.forEach(p => {
  const padL = p.col === 0 ? 63 : 8;
  const w = COL_R[p.col] - COL_L[p.col] + padL + PAD_R;
  const h = ROW_B[p.row] - ROW_T[p.row] + PAD_T + X_H;
  const cv = document.createElement('canvas');
  cv.width = w; cv.height = h;
  cv.style.left = (COL_L[p.col] - padL) + 'px';
  cv.style.top = (ROW_T[p.row] - PAD_T) + 'px';
  cv.style.width = w + 'px'; cv.style.height = h + 'px';
  document.body.appendChild(cv);

  const datasets = [];
  series.forEach((s, i) => {
    datasets.push({
      label: s.name + ' data',
      data: xPts.map((x, k) => ({x: x, y: p.pts[i][k]})),
      showLine: false,
      pointStyle: s.marker, pointRotation: s.rot, pointRadius: s.r,
      pointBackgroundColor: s.color, pointBorderColor: s.color, pointBorderWidth: 0,
      order: 8 - i
    });
    datasets.push({
      label: s.name + ' fit',
      data: xFit.map((x, k) => ({x: x, y: p.fit[i][k]})),
      showLine: true, borderColor: s.color, borderWidth: 2.6,
      pointRadius: 0, tension: 0,
      order: 4 - i
    });
  });

  new Chart(cv, {
    type: 'scatter',
    data: {datasets: datasets},
    options: {
      responsive: false,
      animation: false,
      devicePixelRatio: 1,
      layout: {padding: {top: PAD_T, right: PAD_R, left: 0, bottom: 0}},
      plugins: {legend: {display: false}, tooltip: {enabled: false}},
      scales: {
        x: {
          type: 'linear', min: 2, max: 60,
          afterBuildTicks: sc => { sc.ticks = xTicks.map(v => ({value: v})); },
          afterFit: sc => { sc.height = X_H; },
          ticks: {font: fontTick, color: '#111', padding: 4, maxRotation: 0, autoSkip: false},
          grid: {drawOnChartArea: false, drawTicks: false},
          border: {color: '#666', width: 1.5}
        },
        y: {
          type: 'logarithmic', min: 3.6e-6, max: 0.01,
          afterBuildTicks: sc => { sc.ticks = yTicks.map(v => ({value: v})); },
          afterFit: sc => { sc.width = padL; },
          ticks: {
            display: p.col === 0,
            callback: v => { const i = yTicks.indexOf(v); return i >= 0 ? yTickLabels[i] : ''; },
            font: {family: fontTick.family, size: 17, weight: 'bold'}, color: '#111', padding: 10
          },
          grid: {drawOnChartArea: false, drawTicks: false},
          border: {color: '#666', width: 1.5}
        }
      }
    },
    plugins: [tickMarks]
  });

  // circled run number and field label
  const tag = document.createElement('div');
  tag.className = 'tag';
  tag.style.color = p.color;
  tag.style.left = (p.tag[0] - 25) + 'px';
  tag.style.top = (p.tag[1] - 24) + 'px';
  tag.innerHTML = '<span class="circ">' + p.num + '</span><span class="fld">' + p.field + '</span>';
  document.body.appendChild(tag);
});
</script>
</body>
</html>
